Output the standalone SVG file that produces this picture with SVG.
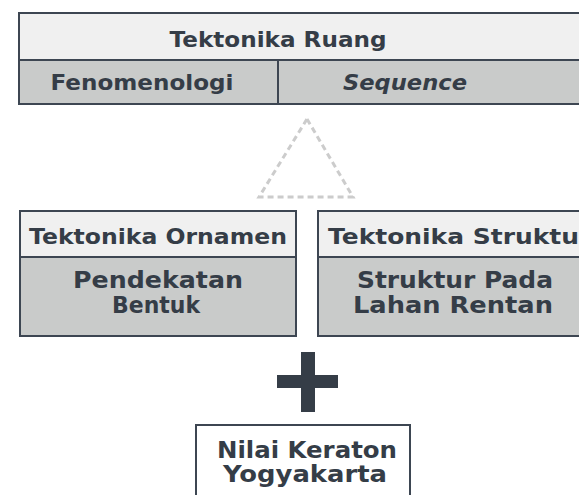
<svg xmlns="http://www.w3.org/2000/svg" width="579" height="495" viewBox="0 0 579 495">
<style>
.t{font-family:"DejaVu Sans","Liberation Sans",sans-serif;font-weight:bold;fill:#353d47;text-anchor:middle}
.s{font-size:21.5px}
.b{font-size:23px}
.box{stroke:#3d4652;stroke-width:2}
.lt{fill:#f0f0f0}
.gr{fill:#c9cbca}
</style>
<rect width="579" height="495" fill="#ffffff"/>
<g id="ruang">
<rect class="box lt" x="19" y="13" width="580" height="47"/>
<rect class="box gr" x="19" y="60" width="580" height="44"/>
<line class="box" x1="278" y1="60" x2="278" y2="104"/>
<text class="t s" x="278" y="47" textLength="217" lengthAdjust="spacingAndGlyphs">Tektonika Ruang</text>
<text class="t s" x="142" y="90" textLength="183" lengthAdjust="spacingAndGlyphs">Fenomenologi</text>
<text class="t s" x="405" y="90" font-style="italic" textLength="124" lengthAdjust="spacingAndGlyphs">Sequence</text>
</g>
<g id="connectors">
<polygon points="307,119 353,197 259,197" fill="none" stroke="#cccccc" stroke-width="3" stroke-dasharray="6,4"/>
</g>
<g id="ornamen">
<rect class="box lt" x="20" y="211" width="276" height="46"/>
<rect class="box gr" x="20" y="257" width="276" height="79"/>
<text class="t s" x="158" y="244" textLength="258" lengthAdjust="spacingAndGlyphs">Tektonika Ornamen</text>
<text class="t b"><tspan x="158" y="288" textLength="170" lengthAdjust="spacingAndGlyphs">Pendekatan</tspan><tspan x="156" y="313" textLength="88" lengthAdjust="spacingAndGlyphs">Bentuk</tspan></text>
</g>
<g id="struktur">
<rect class="box lt" x="318" y="211" width="280" height="46"/>
<rect class="box gr" x="318" y="257" width="280" height="79"/>
<text class="t s" x="328" y="244" style="text-anchor:start" textLength="251" lengthAdjust="spacingAndGlyphs">Tektonika Struktu</text>
<text class="t b"><tspan x="455" y="288" textLength="196" lengthAdjust="spacingAndGlyphs">Struktur Pada</tspan><tspan x="453" y="313" textLength="200" lengthAdjust="spacingAndGlyphs">Lahan Rentan</tspan></text>
</g>
<g id="plus">
<rect x="301" y="352" width="14" height="60" fill="#353d47"/>
<rect x="277" y="375" width="61" height="13" fill="#353d47"/>
</g>
<g id="keraton">
<rect class="box" fill="#ffffff" x="196" y="425" width="214" height="80"/>
<text class="t b"><tspan x="307" y="458" textLength="180" lengthAdjust="spacingAndGlyphs">Nilai Keraton</tspan><tspan x="305" y="482" textLength="164" lengthAdjust="spacingAndGlyphs">Yogyakarta</tspan></text>
</g>
</svg>
